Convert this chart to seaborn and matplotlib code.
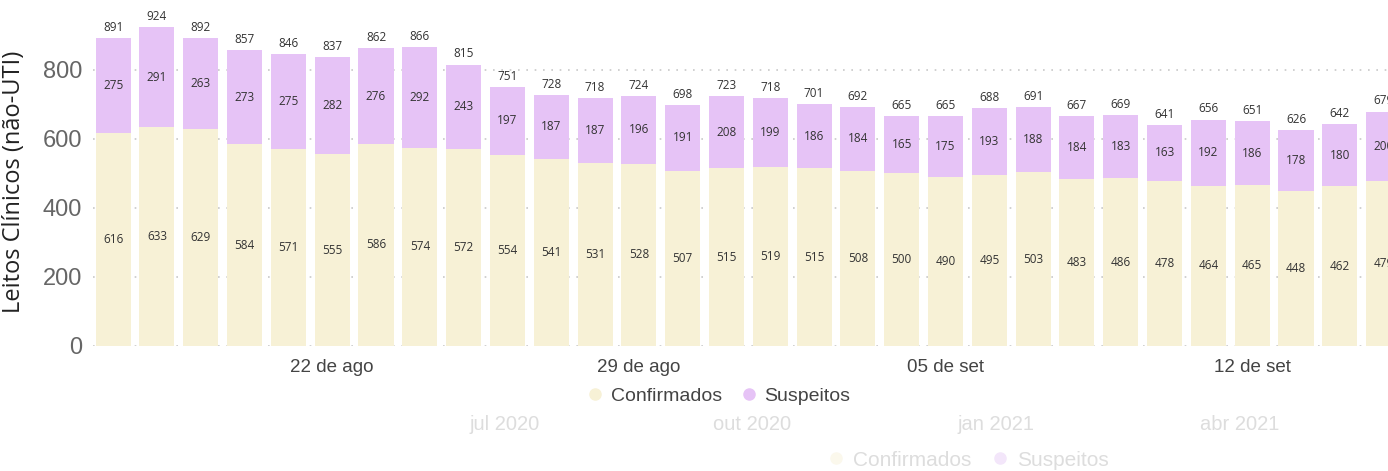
import matplotlib
matplotlib.use("Agg")
import matplotlib.pyplot as plt
import seaborn as sns
import pandas as pd
import numpy as np
from matplotlib.lines import Line2D

dates = ["17/08", "18/08", "19/08", "20/08", "21/08", "22/08", "23/08", "24/08", "25/08", "26/08",
         "27/08", "28/08", "29/08", "30/08", "31/08", "01/09", "02/09", "03/09", "04/09", "05/09",
         "06/09", "07/09", "08/09", "09/09", "10/09", "11/09", "12/09", "13/09", "14/09", "15/09"]
confirmados = [616, 633, 629, 584, 571, 555, 586, 574, 572, 554, 541, 531, 528, 507, 515,
               519, 515, 508, 500, 490, 495, 503, 483, 486, 478, 464, 465, 448, 462, 479]
suspeitos = [275, 291, 263, 273, 275, 282, 276, 292, 243, 197, 187, 187, 196, 191, 208,
             199, 186, 184, 165, 175, 193, 188, 184, 183, 163, 192, 186, 178, 180, 200]
tick_labels = {"22/08": "22 de ago", "29/08": "29 de ago", "05/09": "05 de set", "12/09": "12 de set"}
yticks = [0, 200, 400, 600, 800]

col_conf = "#F7F1D6"
col_susp = "#E6C3F6"

df = pd.DataFrame({"data": dates, "Confirmados": confirmados, "Suspeitos": suspeitos})
df["Total"] = df["Confirmados"] + df["Suspeitos"]

sns.set_style("white")
plt.rcParams["font.family"] = ["Open Sans", "DejaVu Sans"]
arial = ["Liberation Sans", "DejaVu Sans"]

fig = plt.figure(figsize=(13.88, 4.71), dpi=100)
ax = fig.add_axes([93 / 1388, 1 - 346 / 471, 1 - 93 / 1388, (346 - 18) / 471])

sns.barplot(data=df, x="data", y="Total", color=col_susp, width=0.8, ax=ax,
            saturation=1, edgecolor="none", zorder=2)
sns.barplot(data=df, x="data", y="Confirmados", color=col_conf, width=0.8, ax=ax,
            saturation=1, edgecolor="none", zorder=3)

for i, (c, s, t) in enumerate(zip(df["Confirmados"], df["Suspeitos"], df["Total"])):
    ax.text(i, c / 2, str(c), ha="center", va="center", fontsize=8.5, color="#333333", zorder=5)
    ax.text(i, c + s / 2, str(s), ha="center", va="center", fontsize=8.5, color="#333333", zorder=5)
    ax.text(i, t + 12, str(t), ha="center", va="bottom", fontsize=8.5, color="#333333", zorder=5)

ax.set_xlim(-0.46, 29.1)
ax.set_ylim(0, 950)
ax.set_yticks(yticks)
ax.set_yticklabels([str(v) for v in yticks], fontsize=17, color="#666666", family=arial)
for v in yticks:
    ax.axhline(v, color="#C8C8C8", lw=1.2, ls=(0, (1, 4)), zorder=1)

pos = [dates.index(d) for d in tick_labels]
ax.set_xticks(pos)
ax.set_xticklabels(list(tick_labels.values()), fontsize=13.5, color="#444444", family=arial)
ax.tick_params(axis="both", length=0)
ax.tick_params(axis="y", pad=8)
ax.tick_params(axis="x", pad=9)
ax.set_xlabel("")
ax.set_ylabel("Leitos Clínicos (não-UTI)", fontsize=17, color="#222222", labelpad=12)
for sp in ax.spines.values():
    sp.set_visible(False)

handles = [Line2D([], [], marker="o", ls="", color=col_conf, markersize=8),
           Line2D([], [], marker="o", ls="", color=col_susp, markersize=8)]
fig.legend(handles, ["Confirmados", "Suspeitos"], loc="center", bbox_to_anchor=(713 / 1388, 1 - 396 / 471),
           ncol=2, frameon=False, prop={"family": arial, "size": 14}, handletextpad=-0.2,
           columnspacing=0.4, labelcolor="#444444")

# faint background elements visible in the screenshot
ghost = "#DDDDDD"
for x, s in [(505, "jul 2020"), (752, "out 2020"), (996, "jan 2021"), (1240, "abr 2021")]:
    fig.text(x / 1388, 1 - 425 / 471, s, ha="center", va="center", fontsize=14.5, color=ghost, family=arial)
gh = [Line2D([], [], marker="o", ls="", color="#FBF8EC", markersize=8),
      Line2D([], [], marker="o", ls="", color="#F3E6FA", markersize=8)]
fig.legend(gh, ["Confirmados", "Suspeitos"], loc="center", bbox_to_anchor=(962 / 1388, 1 - 460 / 471),
           ncol=2, frameon=False, prop={"family": arial, "size": 15}, handletextpad=-0.2,
           columnspacing=0.4, labelcolor=ghost)

fig.savefig("out.png", dpi=100, facecolor="white")
